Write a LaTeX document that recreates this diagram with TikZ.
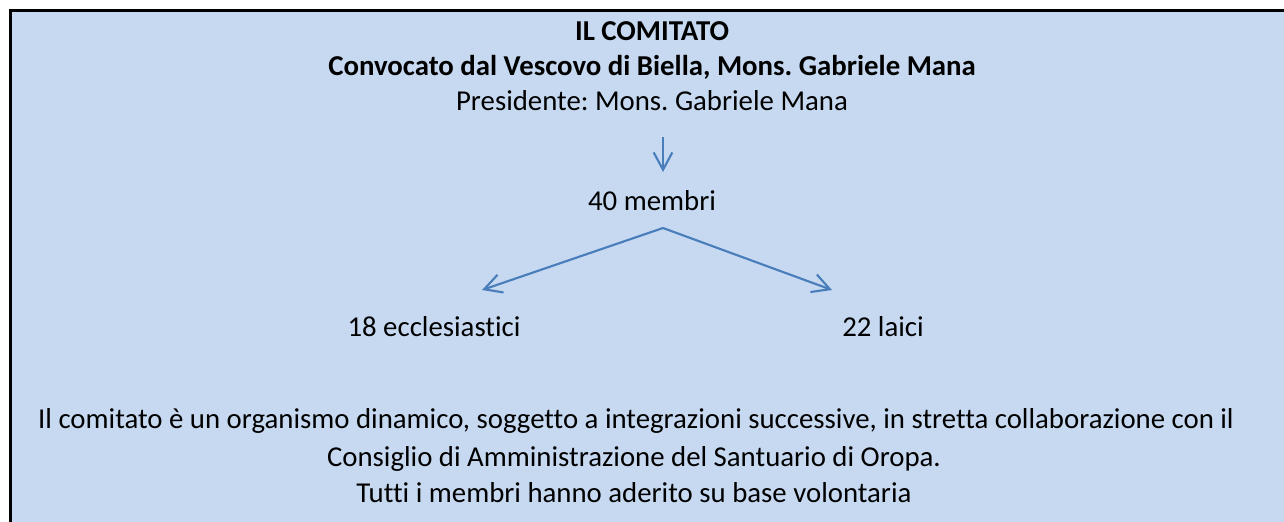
\documentclass[tikz,border=0pt]{standalone}
\usepackage{fontspec}
\setmainfont{Carlito}[Ligatures={NoCommon}]
\usepackage{tikz}
\usetikzlibrary{arrows.meta}
\frenchspacing

\definecolor{boxfill}{RGB}{198,217,241}
\definecolor{arrowblue}{RGB}{74,126,187}

\tikzset{
  txt/.style={anchor=base,inner sep=0.75pt,font=\fontsize{21.6}{26}\selectfont},
  btxt/.style={txt,font=\fontsize{21.6}{26}\selectfont\bfseries},
  link/.style={draw=arrowblue,line width=1.6pt,-{Straight Barb[length=13pt,width=14pt,line width=1.6pt]}}
}

\begin{document}
\begin{tikzpicture}[x=0.75pt,y=0.75pt,yscale=-1,xscale=1]
	\useasboundingbox (0,0) rectangle (1284,521);
	\clip (0,0) rectangle (1284,521);
	
	%Shape: Rectangle [id:box]
	\draw [line width=2.25pt, fill=boxfill] (10.5,10.5) rectangle (1300,540) ;
	
	% Text Node
	\node [btxt] (title) at (652,40) {IL COMITATO};
	% Text Node
	\node [btxt] (conv) at (652,75) {Convocato dal Vescovo di Biella, Mons. Gabriele Mana};
	% Text Node
	\node [txt] (pres) at (652,110) {Presidente: Mons. Gabriele Mana};
	% Text Node
	\node [txt] (memb) at (652,210) {40 membri};
	% Text Node
	\node [txt] (eccl) at (434,336) {18 ecclesiastici};
	% Text Node
	\node [txt] (laici) at (883,336) {22 laici};
	% Text Node
	\node [txt] (note1) at (636,428) {Il comitato è un organismo dinamico, soggetto a integrazioni successive, in stretta collaborazione con il};
	% Text Node
	\node [txt] (note2) at (634,466) {Consiglio di Amministrazione del Santuario di Oropa.};
	% Text Node
	\node [txt] (note3) at (634,502) {Tutti i membri hanno aderito su base volontaria};
	
	%Straight Lines [id:arrows]
	\coordinate (presfoot) at (663,137);
	\coordinate (membhead) at (663,172);
	\coordinate (apex) at (663,228);
	\coordinate (ecclhead) at (482,290);
	\coordinate (laicihead) at (832,290);
	\draw [link] (presfoot) -- (membhead) ;
	\draw [link] (apex) -- (ecclhead) ;
	\draw [link] (apex) -- (laicihead) ;
	
\end{tikzpicture}
\end{document}
